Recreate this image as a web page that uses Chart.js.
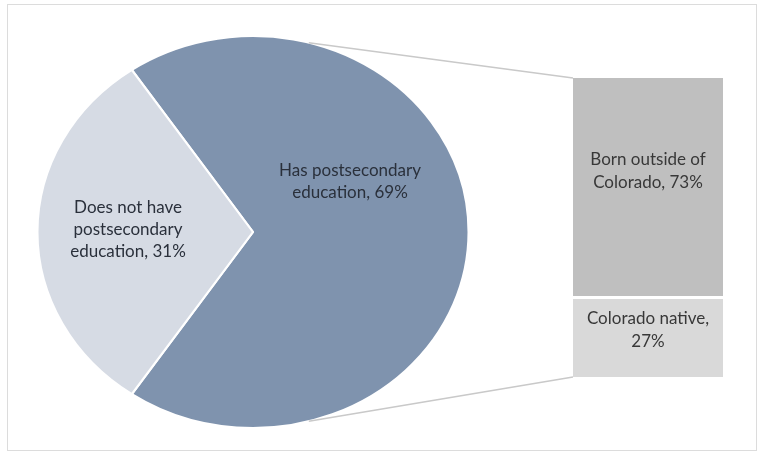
<!DOCTYPE html>
<html>
<head>
<meta charset="utf-8">
<script src="https://cdn.jsdelivr.net/npm/chart.js@4.4.0/dist/chart.umd.min.js"></script>
<style>
    html, body { margin: 0; padding: 0; background: #fff; }
    #wrap { position: relative; width: 762px; height: 452px; overflow: hidden; }
    #frame { position: absolute; left: 7px; top: 4px; width: 750px; height: 447px; border: 1px solid #dcdcdc; box-sizing: border-box; }
    canvas { position: absolute; left: 0; top: 0; }
</style>
</head>
<body>
<div id="wrap">
    <div id="frame"></div>
    <canvas id="pieChart" width="762" height="452"></canvas>
    <canvas id="barChart" width="762" height="452"></canvas>
</div>
<script>
// Pie: education
const pieLabels = ['Has postsecondary education', 'Does not have postsecondary education'];
const pieValues = [69, 31];
// Bar: birthplace (bottom segment first, stacked)
const barLabels = ['Colorado native', 'Born outside of Colorado'];
const barValues = [27, 73];

const FONT = '17px Lato';
const pieColors = ['#7f93ae', '#d6dbe4'];
const barColors = ['#d9d9d9', '#bfbfbf'];

// pie geometry: circle drawn by Chart.js, then stretched sideways to an ellipse
const pieCx = 253, pieCy = 232, pieR = 197;
const stretchX = 1.1;

// where each label sits relative to its anchor, and how wide a line may get
const pieLabelPos = [{ dx: 97, dy: -50, wrap: 160 }, { dx: -125, dy: -2, wrap: 125 }];
const barLabelPos = [{ dy: -7, wrap: 140 }, { dy: -16, wrap: 140 }];

function wrapText(ctx, text, maxWidth) {
    const words = text.split(' ');
    const lines = [];
    let line = '';
    words.forEach(w => {
        const test = line ? line + ' ' + w : w;
        if (line && ctx.measureText(test).width > maxWidth) {
            lines.push(line);
            line = w;
        } else {
            line = test;
        }
    });
    if (line) lines.push(line);
    return lines;
}

function drawLines(ctx, lines, x, y, lineHeight) {
    const top = y - (lines.length - 1) * lineHeight / 2;
    lines.forEach((l, i) => ctx.fillText(l, x, top + i * lineHeight));
}

// rotate so the smaller slice is centred on the left
const total = pieValues.reduce((a, b) => a + b, 0);
const startDeg = 180 + (pieValues[1] / total) * 180;

const ellipsePlugin = {
    id: 'ellipse',
    beforeDatasetsDraw(chart) {
        const ctx = chart.ctx;
        const arc = chart.getDatasetMeta(0).data[0];
        ctx.save();
        ctx.translate(arc.x, arc.y);
        ctx.scale(stretchX, 1);
        ctx.translate(-arc.x, -arc.y);
    },
    afterDatasetsDraw(chart) {
        const ctx = chart.ctx;
        ctx.restore();
        const arc = chart.getDatasetMeta(0).data[0];
        ctx.save();
        ctx.font = FONT;
        ctx.fillStyle = '#2a303b';
        ctx.textAlign = 'center';
        ctx.textBaseline = 'middle';
        pieValues.forEach((v, i) => {
            const p = pieLabelPos[i];
            const lines = wrapText(ctx, pieLabels[i] + ', ' + v + '%', p.wrap);
            drawLines(ctx, lines, arc.x + p.dx, arc.y + p.dy, 22);
        });
        ctx.restore();
    }
};

const pieChart = new Chart(document.getElementById('pieChart'), {
    type: 'pie',
    data: {
        labels: pieLabels,
        datasets: [{
            data: pieValues,
            backgroundColor: pieColors,
            borderColor: '#ffffff',
            borderWidth: 2
        }]
    },
    options: {
        responsive: false,
        animation: false,
        rotation: startDeg + 90,
        layout: {
            padding: {
                left: pieCx - pieR,
                top: pieCy - pieR,
                right: 762 - (pieCx + pieR),
                bottom: 452 - (pieCy + pieR)
            }
        },
        plugins: {
            legend: { display: false },
            tooltip: { enabled: false }
        }
    },
    plugins: [ellipsePlugin]
});

// connector lines from the pie edge to the bar, plus bar labels
const connectorDeg = 75;
const barPlugin = {
    id: 'barExtras',
    beforeDatasetsDraw(chart) {
        const ctx = chart.ctx;
        const arc = pieChart.getDatasetMeta(0).data[0];
        const r = arc.outerRadius;
        const a = connectorDeg * Math.PI / 180;
        const px = arc.x + Math.cos(a) * r * stretchX;
        const bottomBar = chart.getDatasetMeta(0).data[0];
        const topBar = chart.getDatasetMeta(1).data[0];
        const left = topBar.x - topBar.width / 2;
        ctx.save();
        ctx.strokeStyle = '#c9c9c9';
        ctx.lineWidth = 1.5;
        ctx.beginPath();
        ctx.moveTo(px, arc.y - Math.sin(a) * r);
        ctx.lineTo(left, topBar.y);
        ctx.moveTo(px, arc.y + Math.sin(a) * r);
        ctx.lineTo(left, bottomBar.base);
        ctx.stroke();
        ctx.restore();
    },
    afterDatasetsDraw(chart) {
        const ctx = chart.ctx;
        ctx.save();
        ctx.font = FONT;
        ctx.fillStyle = '#383838';
        ctx.textAlign = 'center';
        ctx.textBaseline = 'middle';
        barValues.forEach((v, i) => {
            const el = chart.getDatasetMeta(i).data[0];
            const p = barLabelPos[i];
            const lines = wrapText(ctx, barLabels[i] + ', ' + v + '%', p.wrap);
            drawLines(ctx, lines, el.x, (el.y + el.base) / 2 + p.dy, 23);
        });
        ctx.restore();
    }
};

new Chart(document.getElementById('barChart'), {
    type: 'bar',
    data: {
        labels: [''],
        datasets: [
            {
                label: barLabels[0],
                data: [barValues[0]],
                backgroundColor: barColors[0],
                borderColor: '#ffffff',
                borderWidth: { top: 3, left: 0, right: 0, bottom: 0 },
                borderSkipped: false
            },
            {
                label: barLabels[1],
                data: [barValues[1]],
                backgroundColor: barColors[1],
                borderWidth: 0
            }
        ]
    },
    options: {
        responsive: false,
        animation: false,
        barPercentage: 1,
        categoryPercentage: 1,
        layout: {
            padding: { left: 573, right: 39, top: 78, bottom: 75 }
        },
        scales: {
            x: { stacked: true, display: false },
            y: { stacked: true, display: false, min: 0, max: 100 }
        },
        plugins: {
            legend: { display: false },
            tooltip: { enabled: false }
        }
    },
    plugins: [barPlugin]
});
</script>
</body>
</html>
